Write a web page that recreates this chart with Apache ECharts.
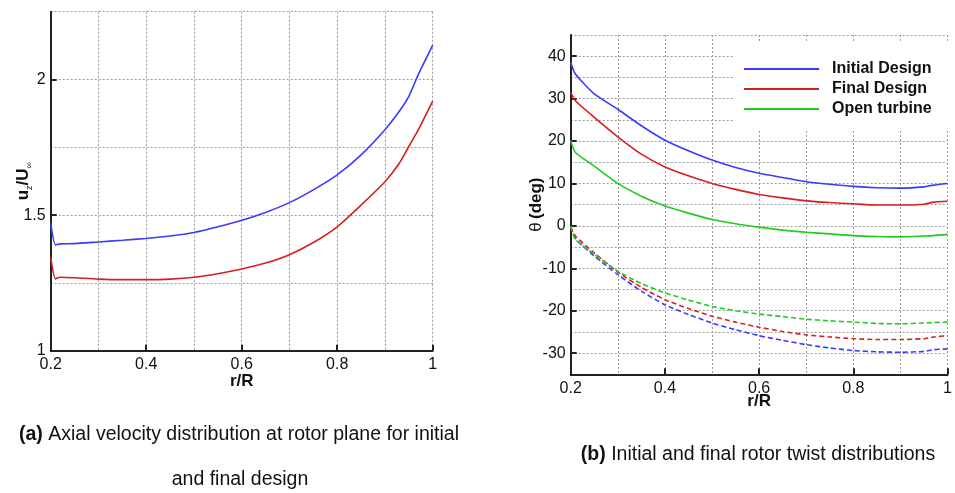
<!DOCTYPE html>
<html>
<head>
<meta charset="utf-8">
<script src="https://cdn.jsdelivr.net/npm/echarts@6/dist/echarts.min.js"></script>
<style>
html,body{margin:0;padding:0;background:#fff;}
#chart{width:955px;height:493px;}
</style>
</head>
<body>
<div id="chart"></div>
<script>
// ---- data (a): axial velocity ----
const rLeft = [0.2,0.21,0.22,0.25,0.3,0.35,0.4,0.45,0.5,0.55,0.6,0.65,0.7,0.75,0.8,0.85,0.9,0.93,0.95,0.97,1.0];
const uzInitial = [1.47,1.39,1.394,1.395,1.401,1.407,1.414,1.423,1.436,1.457,1.481,1.51,1.546,1.593,1.648,1.722,1.815,1.883,1.938,2.019,2.127];
const uzFinal = [1.346,1.265,1.271,1.269,1.264,1.262,1.262,1.264,1.271,1.284,1.301,1.323,1.354,1.399,1.457,1.537,1.623,1.691,1.753,1.815,1.92];
const leftYTicks = [1, 1.5, 2];
const xTicks = [0.2, 0.4, 0.6, 0.8, 1];

// ---- data (b): twist distributions ----
const rRight = [0.2,0.21,0.25,0.3,0.35,0.4,0.45,0.5,0.55,0.6,0.65,0.7,0.75,0.8,0.85,0.9,0.95,0.97,1.0];
const twistInitial = [38.6,35.8,31.1,27.5,23.6,20.2,17.7,15.5,13.75,12.4,11.4,10.4,9.8,9.3,9.0,8.9,9.2,9.6,10.0];
const twistFinal = [31.5,29.5,25.6,21.0,16.9,13.9,11.8,10.0,8.6,7.4,6.6,5.9,5.5,5.2,4.9,4.9,5.1,5.6,5.8];
const twistOpen = [20.1,17.3,14.1,10.0,7.0,4.7,3.0,1.5,0.5,-0.3,-1.0,-1.5,-1.9,-2.3,-2.5,-2.6,-2.4,-2.3,-2.0];
const dashInitial = [-0.4,-3.0,-7.1,-11.5,-15.4,-18.6,-20.9,-22.9,-24.5,-25.9,-27.0,-28.0,-28.8,-29.4,-29.7,-29.8,-29.6,-29.2,-29.0];
const dashFinal = [-0.2,-2.4,-6.4,-10.9,-14.5,-17.4,-19.5,-21.3,-22.7,-23.9,-24.9,-25.7,-26.2,-26.6,-26.8,-26.8,-26.6,-26.2,-25.9];
const dashOpen = [-0.05,-3.2,-6.7,-10.7,-13.6,-15.8,-17.5,-19.0,-20.0,-20.8,-21.4,-22.0,-22.4,-22.7,-23.0,-23.1,-22.9,-22.8,-22.7];
const rightYTicks = [-30,-20,-10,0,10,20,30,40];
const legendNames = ['Initial Design','Final Design','Open turbine'];

const BLUE = '#3a3aff', RED = '#d81e1e', GREEN = '#1ecc1e';
const FONT = 'Liberation Sans, Arial, sans-serif';
const pair = (xs, ys) => xs.map((x, i) => [x, ys[i]]);

const gridLine = {show:true, lineStyle:{color:'#9a9a9a', width:1, type:[2,2]}};
const axisLine = {show:true, onZero:false, lineStyle:{color:'#222', width:2}};
const labelFont = {fontFamily:FONT, fontSize:16, color:'#111'};
const tickStyle = {color:'#222', width:2};

// primary (grid-line) axes
function gridXAxis(gi){
  return {type:'value', gridIndex:gi, min:0.2, max:1, interval:0.1, position:'bottom',
    axisLine:{show:false}, axisTick:{show:false}, axisLabel:{show:false}, splitLine:gridLine};
}
function gridYAxis(gi, min, max, interval){
  return {type:'value', gridIndex:gi, min, max, interval, position:'left',
    axisLine:{show:false}, axisTick:{show:false}, axisLabel:{show:false}, splitLine:gridLine};
}
// overlay (frame / tick / label) axes
function frameXAxis(gi, nameGap){
  return {
    type:'value', gridIndex:gi, min:0.2, max:1, interval:0.2, position:'bottom', offset:0,
    axisLine, splitLine:{show:false},
    axisTick:{show:true, inside:true, length:6, customValues:xTicks, lineStyle:tickStyle},
    axisLabel:Object.assign({customValues:xTicks, margin:6}, labelFont),
    name:'r/R', nameLocation:'middle', nameGap, nameMoveOverlap:false,
    nameTextStyle:{fontFamily:FONT, fontSize:17, fontWeight:'bold', color:'#111', verticalAlign:'top'}
  };
}

function line(name, xs, ys, color, gi, dashed){
  return {
    type:'line', name, xAxisIndex:gi, yAxisIndex:gi,
    data:pair(xs, ys), showSymbol:false, symbol:'none', smooth:0.2,
    lineStyle:{color, width:1.6, type: dashed ? [5,3] : 'solid'},
    itemStyle:{color}, animation:false, z:3
  };
}

const chart = echarts.init(document.getElementById('chart'), null, {renderer:'canvas'});
chart.setOption({
  animation:false,
  backgroundColor:'#fff',
  grid:[
    {left:50.7, right:522.3, top:11.7, bottom:142.3},
    {left:570.7, right:4, top:35, bottom:118.7}
  ],
  xAxis:[gridXAxis(0), gridXAxis(1), frameXAxis(0, 22), frameXAxis(1, 19)],
  yAxis:[
    gridYAxis(0, 1, 2.25, 0.25),
    gridYAxis(1, -35, 45, 5),
    {
      type:'value', gridIndex:0, min:1, max:2.25, interval:0.5, position:'left', offset:0,
      axisLine, splitLine:{show:false},
      axisTick:{show:true, inside:true, length:6, customValues:leftYTicks, lineStyle:tickStyle},
      axisLabel:Object.assign({customValues:leftYTicks, margin:5}, labelFont),
      name:'{b|u}{s|z}{b|/U}{s|∞}', nameLocation:'middle', nameGap:27, nameRotate:90, nameMoveOverlap:false,
      nameTextStyle:{verticalAlign:'middle', rich:{
        b:{fontFamily:FONT, fontSize:17, fontWeight:'bold', color:'#111', lineHeight:20},
        s:{fontFamily:FONT, fontSize:9, color:'#111', verticalAlign:'bottom', padding:[8,0,0,0]}
      }}
    },
    {
      type:'value', gridIndex:1, min:-35, max:45, interval:10, position:'left', offset:0,
      axisLine, splitLine:{show:false},
      axisTick:{show:true, inside:true, length:6, customValues:rightYTicks, lineStyle:tickStyle},
      axisLabel:Object.assign({customValues:rightYTicks, margin:5}, labelFont),
      name:'{n|θ} {b|(deg)}', nameLocation:'middle', nameGap:34, nameRotate:90, nameMoveOverlap:false,
      nameTextStyle:{verticalAlign:'middle', rich:{
        b:{fontFamily:FONT, fontSize:17, fontWeight:'bold', color:'#111'},
        n:{fontFamily:FONT, fontSize:17, color:'#111'}
      }}
    }
  ],
  legend:{
    data:legendNames, orient:'vertical', left:733, top:43,
    padding:[18,18,12,11], itemGap:4, backgroundColor:'#fff',
    icon:'rect', itemWidth:75, itemHeight:2,
    textStyle:{fontFamily:FONT, fontSize:16, fontWeight:'bold', color:'#111', padding:[0,0,0,8]},
    selectedMode:false, z:10
  },
  series:[
    line('Initial Design (a)', rLeft, uzInitial, BLUE, 0, false),
    line('Final Design (a)', rLeft, uzFinal, RED, 0, false),
    line('Initial Design', rRight, twistInitial, BLUE, 1, false),
    line('Final Design', rRight, twistFinal, RED, 1, false),
    line('Open turbine', rRight, twistOpen, GREEN, 1, false),
    line('Initial Design (dashed)', rRight, dashInitial, BLUE, 1, true),
    line('Final Design (dashed)', rRight, dashFinal, RED, 1, true),
    line('Open turbine (dashed)', rRight, dashOpen, GREEN, 1, true)
  ],
  graphic:[
    {type:'text', x:239, y:435, style:{
      text:'{b|(a)} Axial velocity distribution at rotor plane for initial',
      align:'center', verticalAlign:'middle',
      font:'19.5px "Liberation Sans", Arial, sans-serif', fill:'#111',
      rich:{b:{fontWeight:'bold', fontSize:19.5, fontFamily:'Liberation Sans', fill:'#111'}}
    }},
    {type:'text', x:240, y:480, style:{
      text:'and final design', align:'center', verticalAlign:'middle',
      font:'19.5px "Liberation Sans", Arial, sans-serif', fill:'#111'
    }},
    {type:'text', x:758, y:455, style:{
      text:'{b|(b)} Initial and final rotor twist distributions',
      align:'center', verticalAlign:'middle',
      font:'19.5px "Liberation Sans", Arial, sans-serif', fill:'#111',
      rich:{b:{fontWeight:'bold', fontSize:19.5, fontFamily:'Liberation Sans', fill:'#111'}}
    }}
  ]
});
</script>
</body>
</html>
